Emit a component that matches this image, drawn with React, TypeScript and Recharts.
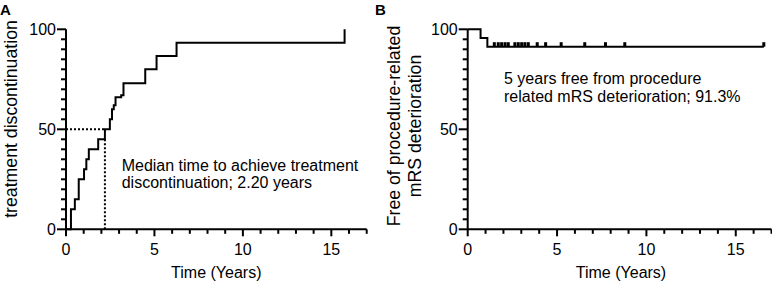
import React from "react";
import {
  ComposedChart,
  Line,
  Scatter,
  XAxis,
  YAxis,
  ReferenceLine,
} from "recharts";

// Panel A: cumulative treatment discontinuation (%)
const timeA = [0, 0.28, 0.5, 0.72, 1.02, 1.15, 1.29, 1.82, 2.2, 2.48, 2.6, 2.7, 2.8, 3.12, 3.25, 4.48, 5.12, 6.25, 15.75];
const valueA = [0, 10, 15, 25, 30, 35, 40, 45, 50, 55, 60, 62, 66, 67, 73, 80, 86.7, 93.3, 100];
const medianA = 2.2;

// Panel B: free of procedure-related mRS deterioration (%)
const timeB = [0, 0.72, 1.1, 16.57];
const valueB = [100, 95.65, 91.3, 91.3];
const censorB = [1.49, 1.71, 1.9, 2.09, 2.27, 2.64, 2.83, 3.02, 3.2, 3.39, 3.89, 4.36, 5.23, 6.55, 7.71, 8.79, 16.57];

const xTicks = Array.from({ length: 18 }, (_, i) => i);
const yTicks = Array.from({ length: 21 }, (_, i) => i * 5);
const xMajor = [0, 5, 10, 15];
const yMajor = [0, 50, 100];

const dataA = timeA.map((t, i) => ({ t, v: valueA[i] }));
const dataB = timeB.map((t, i) => ({ t, v: valueB[i] }));
const censorData = censorB.map((t) => ({ t, v: valueB[valueB.length - 1] }));

const FONT = "'Liberation Sans', Arial, sans-serif";

const YTick = (props: any) => {
  const { x, y, payload } = props;
  const major = yMajor.includes(payload.value);
  return (
    <g>
      <path d={`M${x - (major ? 9 : 5)},${y}H${x}`} stroke="#000" strokeWidth={2} fill="none" />
      {major && (
        <text x={x - 10} y={y} dy="0.36em" textAnchor="end" fontSize={16} fill="#000" fontFamily={FONT}>
          {payload.value}
        </text>
      )}
    </g>
  );
};

const XTick = (props: any) => {
  const { x, y, payload } = props;
  const major = xMajor.includes(payload.value);
  return (
    <g>
      <path d={`M${x},${y}V${y + (major ? 7 : 4.5)}`} stroke="#000" strokeWidth={2} fill="none" />
      {major && (
        <text x={x} y={y + 26} textAnchor="middle" fontSize={16} fill="#000" fontFamily={FONT}>
          {payload.value}
        </text>
      )}
    </g>
  );
};

const CensorMark = (props: any) => {
  const { cx, cy } = props;
  return <rect x={cx - 1.5} y={cy - 4.5} width={3} height={4.5} fill="#000" />;
};

const axisCommon = {
  axisLine: { stroke: "#000", strokeWidth: 2 },
  tickLine: false,
  tickSize: 0,
  tickMargin: 0,
  interval: 0 as const,
};

export default function App() {
  return (
    <div style={{ position: "absolute", left: 0, top: 0, width: 772, height: 285, background: "#fff", fontFamily: FONT }}>
      <div style={{ position: "absolute", left: 0, top: 0 }}>
        <ComposedChart width={372} height={285} data={dataA} margin={{ top: 29.3, right: 5.3, bottom: 25.7, left: 0 }}>
          <XAxis
            type="number"
            dataKey="t"
            domain={[0, 17]}
            ticks={xTicks}
            height={30}
            tick={<XTick />}
            {...axisCommon}
          />
          <YAxis type="number" domain={[0, 100]} ticks={yTicks} width={66} tick={<YTick />} {...axisCommon} />
          <ReferenceLine
            segment={[{ x: 0, y: 50 }, { x: medianA, y: 50 }]}
            stroke="#000"
            strokeWidth={2}
            strokeDasharray="2 2"
          />
          <ReferenceLine
            segment={[{ x: medianA, y: 0 }, { x: medianA, y: 45 }]}
            stroke="#000"
            strokeWidth={2}
            strokeDasharray="2 2"
          />
          <Line
            type="stepAfter"
            dataKey="v"
            stroke="#000"
            strokeWidth={2}
            dot={false}
            isAnimationActive={false}
          />
          <text x={0} y={15} fontSize={15} fontWeight="bold" fill="#000" fontFamily={FONT}>A</text>
          <text
            transform="translate(17,119) rotate(-90)"
            textAnchor="middle"
            fontSize={17.7}
            fill="#000"
            fontFamily={FONT}
          >
            treatment discontinuation
          </text>
          <text x={216.3} y={277.5} textAnchor="middle" fontSize={16} fill="#000" fontFamily={FONT}>
            Time (Years)
          </text>
          <text x={121.7} y={170.8} fontSize={16} fill="#000" fontFamily={FONT}>
            Median time to achieve treatment
          </text>
          <text x={121.7} y={188.3} fontSize={16} fill="#000" fontFamily={FONT}>
            discontinuation; 2.20 years
          </text>
        </ComposedChart>
      </div>
      <div style={{ position: "absolute", left: 372, top: 0 }}>
        <ComposedChart width={400} height={285} data={dataB} margin={{ top: 29.3, right: 0.5, bottom: 25.7, left: 0 }}>
          <XAxis
            type="number"
            dataKey="t"
            domain={[0, 17]}
            ticks={xTicks}
            height={30}
            tick={<XTick />}
            {...axisCommon}
          />
          <YAxis type="number" domain={[0, 100]} ticks={yTicks} width={95.7} tick={<YTick />} {...axisCommon} />
          <Line
            type="stepAfter"
            dataKey="v"
            stroke="#000"
            strokeWidth={2}
            dot={false}
            isAnimationActive={false}
          />
          <Scatter data={censorData} dataKey="v" shape={<CensorMark />} isAnimationActive={false} />
          <text x={3} y={15} fontSize={15} fontWeight="bold" fill="#000" fontFamily={FONT}>B</text>
          <text
            transform="translate(28,126) rotate(-90)"
            textAnchor="middle"
            fontSize={17.7}
            fill="#000"
            fontFamily={FONT}
          >
            Free of procedure-related
          </text>
          <text
            transform="translate(48.5,126) rotate(-90)"
            textAnchor="middle"
            fontSize={17.7}
            fill="#000"
            fontFamily={FONT}
          >
            mRS deterioration
          </text>
          <text x={249} y={277.5} textAnchor="middle" fontSize={16} fill="#000" fontFamily={FONT}>
            Time (Years)
          </text>
          <text x={132} y={84.2} fontSize={16} fill="#000" fontFamily={FONT}>
            5 years free from procedure
          </text>
          <text x={132} y={101.7} fontSize={16} fill="#000" fontFamily={FONT}>
            related mRS deterioration; 91.3%
          </text>
        </ComposedChart>
      </div>
    </div>
  );
}
